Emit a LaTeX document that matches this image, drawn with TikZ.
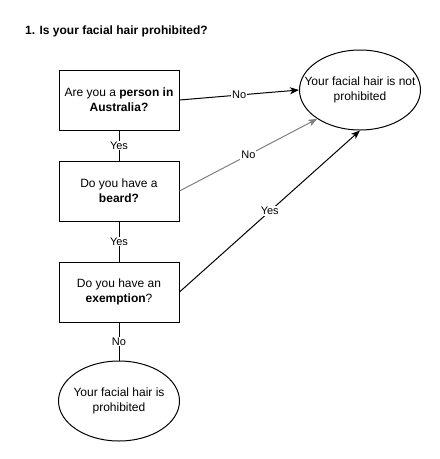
\documentclass[tikz,border=0pt]{standalone}
\usepackage{fontspec}
\setmainfont{Liberation Sans}
\usetikzlibrary{shapes,arrows.meta,positioning}

\begin{document}
\begin{tikzpicture}[
    x=1pt, y=1pt,
    node distance=30pt,
    box/.style={rectangle, draw, line width=1pt, minimum width=120pt, minimum height=60pt, inner sep=0pt, align=center, font=\fontsize{12}{15}\selectfont},
    oval/.style={ellipse, draw, line width=1pt, minimum width=121pt, minimum height=80pt, inner sep=0pt},
    ovaltext/.style={align=center, font=\fontsize{12}{15}\selectfont},
    lbl/.style={fill=white, inner sep=1pt, font=\fontsize{11}{13}\selectfont},
    link/.style={line width=1pt},
    arrow/.style={link, -{Stealth[length=9pt, width=7pt, inset=2.5pt]}},
]
    \useasboundingbox (0,0) rectangle (440,-459);
    \node[anchor=west, inner sep=0pt, font=\fontsize{12}{14}\selectfont\bfseries] (title) at (25,-31) {1. Is your facial hair prohibited?};

    \node[box] (person) at (119,-100) {Are you a \textbf{person in}\\\textbf{Australia?}};
    \node[box, below=of person] (beard) {Do you have a\\\textbf{beard?}};
    \node[box, below=40pt of beard] (exempt) {Do you have an\\\textbf{exemption}?};
    \node[oval, below=38pt of exempt, label={[ovaltext]center:Your facial hair is\\prohibited}] (banned) {};
    \node[oval, label={[ovaltext]center:Your facial hair is not\\prohibited}] (allowed) at (360,-90) {};

    \draw[arrow] (person.east) -- node[lbl] {No} (allowed.west);
    \draw[arrow, black!50] (beard.east) -- node[lbl, text=black] {No} (allowed.214);
    \draw[arrow] (exempt.east) -- node[lbl] {Yes} (allowed.south);
    \draw[link] (person) -- node[lbl] {Yes} (beard);
    \draw[link] (beard) -- node[lbl] {Yes} (exempt);
    \draw[link] (exempt) -- node[lbl] {No} (banned);
\end{tikzpicture}
\end{document}
